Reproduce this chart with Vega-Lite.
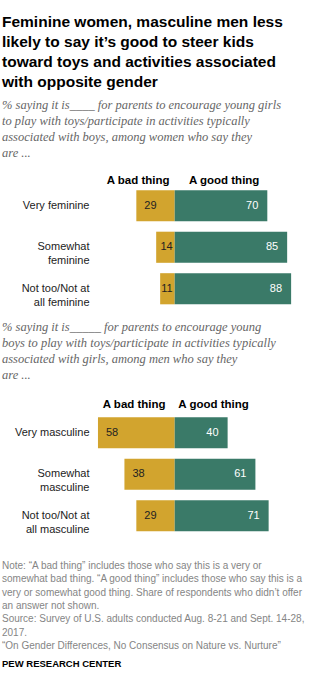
{
  "$schema": "https://vega.github.io/schema/vega-lite/v6.json",
  "padding": {"left": 2, "top": 15, "right": 0, "bottom": 0},
  "background": "white",
  "config": {"view": {"stroke": null}, "font": "Liberation Sans"},
  "datasets": {
    "women": [
      {"group": "Very feminine", "response": "A bad thing", "value": 29, "signed": -29},
      {"group": "Very feminine", "response": "A good thing", "value": 70, "signed": 70},
      {"group": "Somewhat|feminine", "response": "A bad thing", "value": 14, "signed": -14},
      {"group": "Somewhat|feminine", "response": "A good thing", "value": 85, "signed": 85},
      {"group": "Not too/Not at|all feminine", "response": "A bad thing", "value": 11, "signed": -11},
      {"group": "Not too/Not at|all feminine", "response": "A good thing", "value": 88, "signed": 88}
    ],
    "men": [
      {"group": "Very masculine", "response": "A bad thing", "value": 58, "signed": -58},
      {"group": "Very masculine", "response": "A good thing", "value": 40, "signed": 40},
      {"group": "Somewhat|masculine", "response": "A bad thing", "value": 38, "signed": -38},
      {"group": "Somewhat|masculine", "response": "A good thing", "value": 61, "signed": 61},
      {"group": "Not too/Not at|all masculine", "response": "A bad thing", "value": 29, "signed": -29},
      {"group": "Not too/Not at|all masculine", "response": "A good thing", "value": 71, "signed": 71}
    ]
  },
  "vconcat": [
    {
      "data": {"name": "women"},
      "width": 213,
      "height": 124.5,
      "title": {
        "text": [
          "Feminine women, masculine men less",
          "likely to say it’s good to steer kids",
          "toward toys and activities associated",
          "with opposite gender"
        ],
        "subtitle": [
          "% saying it is____ for parents to encourage young girls",
          "to play with toys/participate in activities typically",
          "associated with boys, among women who say they",
          "are ..."
        ],
        "anchor": "start",
        "frame": "group",
        "dx": -92,
        "offset": 15,
        "font": "Liberation Sans",
        "fontSize": 15.5,
        "fontWeight": "bold",
        "color": "#000000",
        "lineHeight": 20,
        "subtitleFont": "Liberation Serif",
        "subtitleFontSize": 12.5,
        "subtitleFontStyle": "italic",
        "subtitleColor": "#666666",
        "subtitleLineHeight": 16,
        "subtitlePadding": 8
      },
      "encoding": {
        "y": {
          "field": "group", "type": "nominal", "sort": null,
          "scale": {"paddingInner": 0.25, "paddingOuter": 0.125},
          "axis": {"title": null, "labelExpr": "split(datum.label, '|')", "ticks": false, "domain": false, "labelPadding": 5, "labelFontSize": 11, "labelColor": "#222222", "labelLineHeight": 14, "labelLimit": 200}
        }
      },
      "layer": [
        {
          "mark": {"type": "bar"},
          "encoding": {
            "x": {
              "field": "signed", "type": "quantitative",
              "scale": {"domain": [-61, 100], "nice": false, "zero": false},
              "axis": {"orient": "top", "values": [-28, 37], "labelExpr": "datum.value < 0 ? 'A bad thing' : 'A good thing'", "labelFontWeight": "bold", "labelFontSize": 11.5, "labelColor": "#000000", "domain": false, "ticks": false, "grid": false, "labelPadding": 0, "labelFlush": false, "labelOverlap": false, "title": null}
            },
            "color": {"field": "response", "type": "nominal", "scale": {"domain": ["A bad thing", "A good thing"], "range": ["#D2A42E", "#3A7A68"]}, "legend": null}
          }
        },
        {
          "transform": [{"filter": "datum.response == 'A bad thing' && datum.value >= 20"}],
          "mark": {"type": "text", "align": "left", "dx": 8, "fontSize": 11, "color": "#222222"},
          "encoding": {"x": {"field": "signed", "type": "quantitative"}, "text": {"field": "value"}}
        },
        {
          "transform": [{"filter": "datum.response == 'A bad thing' && datum.value < 20"}],
          "mark": {"type": "text", "align": "right", "dx": -2, "fontSize": 11, "color": "#222222"},
          "encoding": {"x": {"datum": 0, "type": "quantitative"}, "text": {"field": "value"}}
        },
        {
          "transform": [{"filter": "datum.response == 'A good thing'"}],
          "mark": {"type": "text", "align": "right", "dx": -9, "fontSize": 11, "color": "#ffffff"},
          "encoding": {"x": {"field": "signed", "type": "quantitative"}, "text": {"field": "value"}}
        }
      ]
    },
    {
      "data": {"name": "men"},
      "width": 213,
      "height": 124.5,
      "title": {
        "text": [
          "% saying it is_____ for parents to encourage young",
          "boys to play with toys/participate in activities typically",
          "associated with girls, among men who say they",
          "are ..."
        ],
        "anchor": "start",
        "frame": "group",
        "dx": -92,
        "offset": 17,
        "font": "Liberation Serif",
        "fontSize": 12.5,
        "fontStyle": "italic",
        "fontWeight": "normal",
        "color": "#666666",
        "lineHeight": 16
      },
      "encoding": {
        "y": {
          "field": "group", "type": "nominal", "sort": null,
          "scale": {"paddingInner": 0.25, "paddingOuter": 0.125},
          "axis": {"title": null, "labelExpr": "split(datum.label, '|')", "ticks": false, "domain": false, "labelPadding": 5, "labelFontSize": 11, "labelColor": "#222222", "labelLineHeight": 14, "labelLimit": 200}
        }
      },
      "layer": [
        {
          "mark": {"type": "bar"},
          "encoding": {
            "x": {
              "field": "signed", "type": "quantitative",
              "scale": {"domain": [-61, 100], "nice": false, "zero": false},
              "axis": {"orient": "top", "values": [-31, 29], "labelExpr": "datum.value < 0 ? 'A bad thing' : 'A good thing'", "labelFontWeight": "bold", "labelFontSize": 11.5, "labelColor": "#000000", "domain": false, "ticks": false, "grid": false, "labelPadding": 3, "labelFlush": false, "labelOverlap": false, "title": null}
            },
            "color": {"field": "response", "type": "nominal", "scale": {"domain": ["A bad thing", "A good thing"], "range": ["#D2A42E", "#3A7A68"]}, "legend": null}
          }
        },
        {
          "transform": [{"filter": "datum.response == 'A bad thing' && datum.value >= 20"}],
          "mark": {"type": "text", "align": "left", "dx": 8, "fontSize": 11, "color": "#222222"},
          "encoding": {"x": {"field": "signed", "type": "quantitative"}, "text": {"field": "value"}}
        },
        {
          "transform": [{"filter": "datum.response == 'A good thing'"}],
          "mark": {"type": "text", "align": "right", "dx": -9, "fontSize": 11, "color": "#ffffff"},
          "encoding": {"x": {"field": "signed", "type": "quantitative"}, "text": {"field": "value"}}
        }
      ]
    },
    {
      "data": {"values": [{"note": ""}]},
      "width": 213,
      "height": 1,
      "mark": {"type": "text"},
      "encoding": {"text": {"field": "note"}},
      "title": {
        "text": [
          "",
          "Note: “A bad thing” includes those who say this is a very or",
          "somewhat bad thing. “A good thing” includes those who say this is a",
          "very or somewhat good thing. Share of respondents who didn’t offer",
          "an answer not shown.",
          "Source: Survey of U.S. adults conducted Aug. 8-21 and Sept. 14-28,",
          "2017.",
          "“On Gender Differences, No Consensus on Nature vs. Nurture”"
        ],
        "subtitle": "PEW RESEARCH CENTER",
        "orient": "top",
        "anchor": "start",
        "frame": "group",
        "dx": -92,
        "offset": 2,
        "font": "Liberation Sans",
        "fontSize": 10,
        "fontWeight": "normal",
        "color": "#858585",
        "lineHeight": 13.3,
        "subtitleFont": "Liberation Sans",
        "subtitleFontSize": 9.5,
        "subtitleFontWeight": "bold",
        "subtitleColor": "#000000",
        "subtitlePadding": 8
      }
    }
  ],
  "spacing": 10
}
